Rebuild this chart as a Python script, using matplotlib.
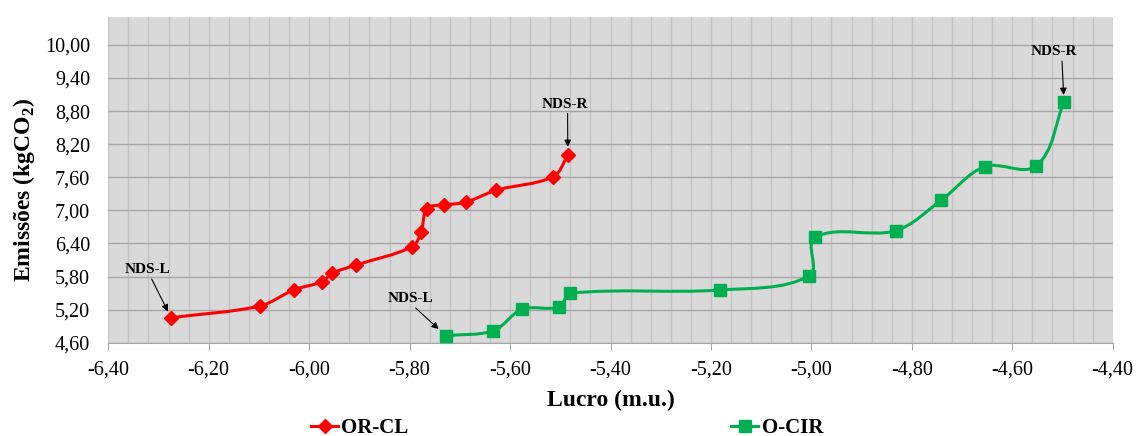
import matplotlib
matplotlib.use('Agg')
import matplotlib.pyplot as plt
import numpy as np
from matplotlib.path import Path
from matplotlib.patches import PathPatch
from matplotlib.lines import Line2D
from matplotlib.ticker import MultipleLocator, FuncFormatter

plt.rcParams['font.family'] = ['Liberation Serif', 'DejaVu Serif']
plt.rcParams['mathtext.fontset'] = 'custom'
plt.rcParams['mathtext.rm'] = 'Liberation Serif'
plt.rcParams['mathtext.bf'] = 'Liberation Serif:bold'

# dados
or_cl_lucro = [-6.275, -6.098, -6.030, -5.974, -5.954, -5.906, -5.795,
               -5.777, -5.765, -5.731, -5.688, -5.628, -5.514, -5.485]
or_cl_emis = [5.053, 5.266, 5.561, 5.706, 5.859, 6.009, 6.341,
              6.603, 7.031, 7.098, 7.147, 7.364, 7.611, 7.999]

ocir_lucro = [-5.728, -5.633, -5.576, -5.502, -5.480, -5.181, -5.004,
              -4.992, -4.832, -4.741, -4.655, -4.552, -4.497]
ocir_emis = [4.727, 4.818, 5.206, 5.248, 5.496, 5.556, 5.815,
             6.512, 6.632, 7.188, 7.792, 7.811, 8.966]

series_nomes = ['OR-CL', 'O-CIR']
cores = ['#ff0000', '#00b050']
marcadores = ['D', 's']

# rotulos NDS: (serie, indice do ponto, texto)
rotulos = [(0, 0, 'NDS-L'), (0, -1, 'NDS-R'), (1, 0, 'NDS-L'), (1, -1, 'NDS-R')]

xmin, xmax = -6.40, -4.40
ymin, ymax = 4.60, 10.50


def curva_suave(x, y, sx, sy):
    # linha suavizada (Bezier pelos pontos), calculada na escala visual
    pts = np.column_stack([np.asarray(x) * sx, np.asarray(y) * sy])
    n = len(pts)
    verts = [pts[0]]
    codes = [Path.MOVETO]
    for i in range(n - 1):
        p0 = pts[i - 1] if i > 0 else pts[i]
        p1 = pts[i]
        p2 = pts[i + 1]
        p3 = pts[i + 2] if i + 2 < n else pts[i + 1]
        d = np.hypot(*(p2 - p1))
        t1 = (p2 - p0) / np.hypot(*(p2 - p0))
        t2 = (p3 - p1) / np.hypot(*(p3 - p1))
        verts += [p1 + t1 * d / 3, p2 - t2 * d / 3, p2]
        codes += [Path.CURVE4] * 3
    verts = np.array(verts) / [sx, sy]
    return Path(verts, codes)


W, H = 1137, 436
fig = plt.figure(figsize=(W / 100, H / 100), dpi=100)
ax_w, ax_h = 1112.7 - 108.3, 342.7 - 17.3
ax = fig.add_axes([108.3 / W, 1 - 342.7 / H, ax_w / W, ax_h / H])
ax.set_facecolor('#d9d9d9')
sx = ax_w / (xmax - xmin)
sy = ax_h / (ymax - ymin)

dados = [(or_cl_lucro, or_cl_emis), (ocir_lucro, ocir_emis)]
handles = []
for (x, y), nome, cor, mk in zip(dados, series_nomes, cores, marcadores):
    ax.add_patch(PathPatch(curva_suave(x, y, sx, sy), fill=False, ec=cor, lw=2.2, zorder=3))
    ms = 7.5 if mk == 'D' else 8.5
    ax.plot(x, y, ls='none', marker=mk, ms=ms, color=cor, zorder=4)
    handles.append(Line2D([], [], color=cor, lw=2.2, marker=mk, ms=ms))

# deslocamento do texto (px), recuo da seta e ponto de saida da seta
desloc = [(-24, 48, 5, 0.57), (-3, 51, 6, 0.56), (-35, 37, 7, 0.54), (-10, 50, 5, 0.67)]
for (s, i, txt), (dx, dy, sb, rx) in zip(rotulos, desloc):
    x, y = dados[s]
    ax.annotate(txt, xy=(x[i], y[i]), xytext=(dx, dy), textcoords='offset pixels',
                ha='center', va='center', fontsize=11, fontweight='bold',
                arrowprops=dict(arrowstyle='-|>', color='black', lw=0.8,
                                mutation_scale=10, shrinkA=0, shrinkB=sb,
                                relpos=(rx, 0)),
                zorder=5)

ax.set_xlim(xmin, xmax)
ax.set_ylim(ymin, ymax)
ax.xaxis.set_major_locator(MultipleLocator(0.2))
ax.xaxis.set_minor_locator(MultipleLocator(0.04))
ax.set_yticks(np.arange(4.6, 10.01, 0.6))
fmt = FuncFormatter(lambda v, p: f'{v:.2f}'.replace('.', ','))
ax.xaxis.set_major_formatter(fmt)
ax.yaxis.set_major_formatter(fmt)

ax.grid(which='major', axis='y', color='#a6a6a6', lw=1.0)
ax.grid(which='both', axis='x', color='#c4c4c4', lw=1.0)
ax.set_axisbelow(True)
for lado in ['top', 'right', 'left']:
    ax.spines[lado].set_visible(False)
ax.spines['bottom'].set_color('#a6a6a6')
ax.tick_params(axis='x', which='major', length=5, color='#a6a6a6', labelsize=14.5, pad=8)
ax.tick_params(axis='x', which='minor', length=0)
ax.tick_params(axis='y', length=0, labelsize=14.5, pad=13)

ax.set_xlabel('Lucro (m.u.)', fontsize=17, fontweight='bold', labelpad=7)
ax.set_ylabel(r'Emissões (kgCO$_\mathbf{2}$)', fontsize=17, fontweight='bold')
ax.yaxis.set_label_coords((37 - 108.3) / ax_w, (342.7 - 190) / ax_h)

fig.legend(handles, series_nomes, loc='center', bbox_to_anchor=(567 / W, 1 - 428 / H),
           ncol=2, frameon=False, prop={'weight': 'bold', 'size': 15},
           handlelength=1.3, handletextpad=0.15, columnspacing=15.5)

fig.savefig('out.png', dpi=100)
